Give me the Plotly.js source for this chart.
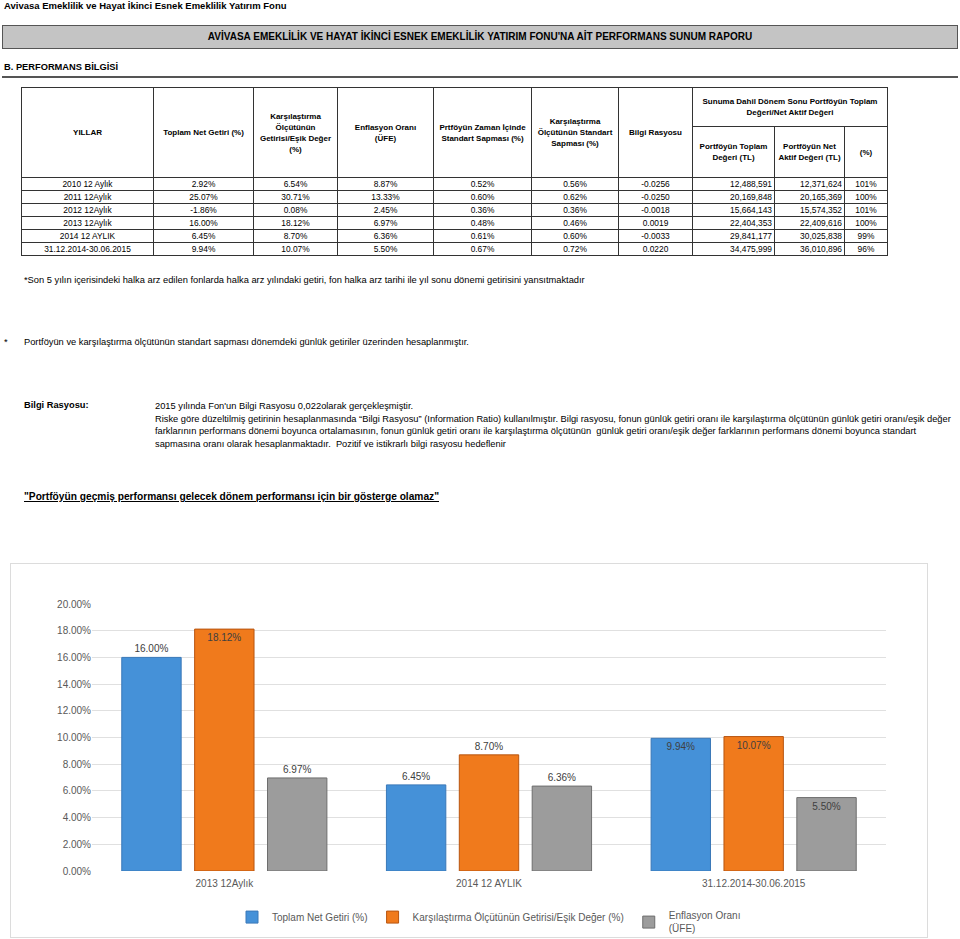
<!DOCTYPE html>
<html>
<head>
<meta charset="utf-8">
<script src="https://cdn.plot.ly/plotly-3.0.1.min.js"></script>
<style>
  body { margin: 0; width: 960px; height: 939px; position: relative; background: #fff;
         font-family: Arial, "Liberation Sans", sans-serif; color: #000; overflow: hidden; }
  .abs { position: absolute; white-space: nowrap; }
  #title { left: 4px; top: 0px; font-size: 9.5px; font-weight: bold; }
  #banner { left: 2px; top: 25px; width: 954px; height: 22px; background: #c4c4c4;
            border: 1px solid #555; text-align: center; line-height: 22px; font-size: 10px; font-weight: bold; }
  #section { left: 4px; top: 62px; font-size: 9.3px; font-weight: bold; }
  #sectionLine { left: 2px; top: 76px; width: 956px; height: 2px; background: #555; }
  table { position: absolute; left: 21px; top: 87px; border-collapse: collapse; table-layout: fixed;
          font-size: 8px; }
  td { border: 1px solid #333; padding: 0 2px; text-align: center; overflow: hidden; white-space: nowrap; }
  thead td { font-weight: bold; white-space: normal; line-height: 11px; border-width: 1.5px; }
  tbody td { height: 12px; line-height: 12px; font-size: 8.4px; }
  td.r { text-align: right; }
  .note { font-size: 9.3px; }
  #chart { position: absolute; left: 10px; top: 563px; width: 916px; height: 373px;
           border: 1px solid #dcdcdc; }
</style>
</head>
<body>
<div id="title" class="abs">Avivasa Emeklilik ve Hayat İkinci Esnek Emeklilik Yatırım Fonu</div>
<div id="banner" class="abs">AVİVASA EMEKLİLİK VE HAYAT İKİNCİ ESNEK EMEKLİLİK YATIRIM FONU'NA AİT PERFORMANS SUNUM RAPORU</div>
<div id="section" class="abs">B. PERFORMANS BİLGİSİ</div>
<div id="sectionLine" class="abs"></div>

<table id="perf">
  <colgroup>
    <col style="width:132px"><col style="width:100px"><col style="width:84px"><col style="width:96px">
    <col style="width:98px"><col style="width:87px"><col style="width:74px"><col style="width:82px">
    <col style="width:70px"><col style="width:43px">
  </colgroup>
  <thead>
    <tr style="height:39px">
      <td rowspan="2">YILLAR</td>
      <td rowspan="2">Toplam Net Getiri (%)</td>
      <td rowspan="2">Karşılaştırma Ölçütünün Getirisi/Eşik Değer (%)</td>
      <td rowspan="2">Enflasyon Oranı<br>(ÜFE)</td>
      <td rowspan="2">Prtföyün Zaman İçinde Standart Sapması (%)</td>
      <td rowspan="2">Karşılaştırma Ölçütünün Standart Sapması (%)</td>
      <td rowspan="2">Bilgi Rasyosu</td>
      <td colspan="3">Sunuma Dahil Dönem Sonu Portföyün Toplam Değeri/Net Aktif Değeri</td>
    </tr>
    <tr style="height:51px">
      <td>Portföyün Toplam Değeri (TL)</td>
      <td>Portföyün Net Aktif Değeri (TL)</td>
      <td>(%)</td>
    </tr>
  </thead>
  <tbody id="rows"></tbody>
</table>

<div class="abs note" style="left:24px; top:275px;">*Son 5 yılın içerisindeki halka arz edilen fonlarda halka arz yılındaki getiri, fon halka arz tarihi ile yıl sonu dönemi getirisini yansıtmaktadır</div>
<div class="abs note" style="left:4px; top:337px;">*</div>
<div class="abs note" style="left:24px; top:337px;">Portföyün ve karşılaştırma ölçütünün standart sapması dönemdeki günlük getiriler üzerinden hesaplanmıştır.</div>
<div class="abs note" style="left:24px; top:400px; font-weight:bold;">Bilgi Rasyosu:</div>
<div class="abs note" style="left:155px; top:400px; line-height:12.7px;">2015 yılında Fon'un Bilgi Rasyosu 0,022olarak gerçekleşmiştir.<br>Riske göre düzeltilmiş getirinin hesaplanmasında “Bilgi Rasyosu” (Information Ratio) kullanılmıştır. Bilgi rasyosu, fonun günlük getiri oranı ile karşılaştırma ölçütünün günlük getiri oranı/eşik değer<br>farklarının performans dönemi boyunca ortalamasının, fonun günlük getiri oranı ile karşılaştırma ölçütünün&nbsp; günlük getiri oranı/eşik değer farklarının performans dönemi boyunca standart<br>sapmasına oranı olarak hesaplanmaktadır.&nbsp; Pozitif ve istikrarlı bilgi rasyosu hedeflenir</div>
<div class="abs" style="left:24px; top:491px; font-size:10.2px; font-weight:bold; text-decoration:underline;">"Portföyün geçmiş performansı gelecek dönem performansı için bir gösterge olamaz"</div>

<div id="chart"></div>

<script>
// table values, one row per period
const years = ['2010 12 Aylık', '2011 12Aylık', '2012 12Aylık', '2013 12Aylık', '2014 12 AYLIK', '31.12.2014-30.06.2015'];
const netGetiri = [2.92, 25.07, -1.86, 16.00, 6.45, 9.94];
const esikDeger = [6.54, 30.71, 0.08, 18.12, 8.70, 10.07];
const enflasyon = [8.87, 13.33, 2.45, 6.97, 6.36, 5.50];
const portfoySapma = [0.52, 0.60, 0.36, 0.48, 0.61, 0.67];
const olcutSapma = [0.56, 0.62, 0.36, 0.46, 0.60, 0.72];
const bilgiRasyosu = [-0.0256, -0.0250, -0.0018, 0.0019, -0.0033, 0.0220];
const toplamDeger = [12488591, 20169848, 15664143, 22404353, 29841177, 34475999];
const netAktif = [12371624, 20165369, 15574352, 22409616, 30025838, 36010896];
const oran = [101, 100, 101, 100, 99, 96];

// chart shows the last three periods
const chartFrom = 3;
const seriesNames = ['Toplam Net Getiri (%)', 'Karşılaştırma Ölçütünün Getirisi/Eşik Değer (%)', 'Enflasyon Oranı<br>(ÜFE)'];

const pct = v => v.toFixed(2) + '%';
const num = v => v.toLocaleString('en-US');

let html = '';
for (let i = 0; i < years.length; i++) {
    html += '<tr>' +
        '<td>' + years[i] + '</td>' +
        '<td>' + pct(netGetiri[i]) + '</td>' +
        '<td>' + pct(esikDeger[i]) + '</td>' +
        '<td>' + pct(enflasyon[i]) + '</td>' +
        '<td>' + pct(portfoySapma[i]) + '</td>' +
        '<td>' + pct(olcutSapma[i]) + '</td>' +
        '<td>' + bilgiRasyosu[i].toFixed(4) + '</td>' +
        '<td class="r">' + num(toplamDeger[i]) + '</td>' +
        '<td class="r">' + num(netAktif[i]) + '</td>' +
        '<td>' + oran[i] + '%</td>' +
        '</tr>';
}
document.getElementById('rows').innerHTML = html;

const cats = years.slice(chartFrom);
const series = [netGetiri, esikDeger, enflasyon].map(s => s.slice(chartFrom));
const colors = ['#4591d8', '#f07a1c', '#9c9c9c'];
const edges = ['#3a78b8', '#b85510', '#6e6e6e'];
const positions = [
    ['outside', 'outside', 'inside'],
    ['inside', 'outside', 'inside'],
    ['outside', 'outside', 'inside']
];

const data = series.map((vals, k) => ({
    type: 'bar',
    x: cats,
    y: vals,
    name: seriesNames[k],
    marker: { color: colors[k], line: { color: edges[k], width: 1 } },
    texttemplate: '%{y:.2f}%',
    textposition: positions[k],
    insidetextanchor: 'end',
    constraintext: 'none',
    cliponaxis: false,
    textfont: { color: '#404040', size: 10 },
    hoverinfo: 'skip'
}));

const layout = {
    width: 916,
    height: 373,
    margin: { l: 81, r: 41, t: 40, b: 66, autoexpand: false },
    paper_bgcolor: '#fff',
    plot_bgcolor: '#fff',
    font: { family: 'Arial, "Liberation Sans", sans-serif', size: 10, color: '#595959' },
    barmode: 'group',
    bargap: 0.174,
    bargroupgap: 0.185,
    xaxis: { showgrid: false, showline: false, ticks: '', ticklabelstandoff: 5,
             tickfont: { size: 10, color: '#595959' } },
    yaxis: {
        range: [0, 20], dtick: 2, tickformat: '.2f', ticksuffix: '%',
        gridcolor: '#e0e0e0', zeroline: false, showline: false, ticks: '',
        tickfont: { size: 10, color: '#595959' }
    },
    legend: {
        orientation: 'h', x: 0.5, xanchor: 'center', yref: 'container', y: 0.04, yanchor: 'middle',
        font: { size: 10, color: '#595959' }, itemwidth: 30, tracegroupgap: 0
    },
    showlegend: true
};

Plotly.newPlot('chart', data, layout, { displayModeBar: false, staticPlot: true });
</script>
</body>
</html>
